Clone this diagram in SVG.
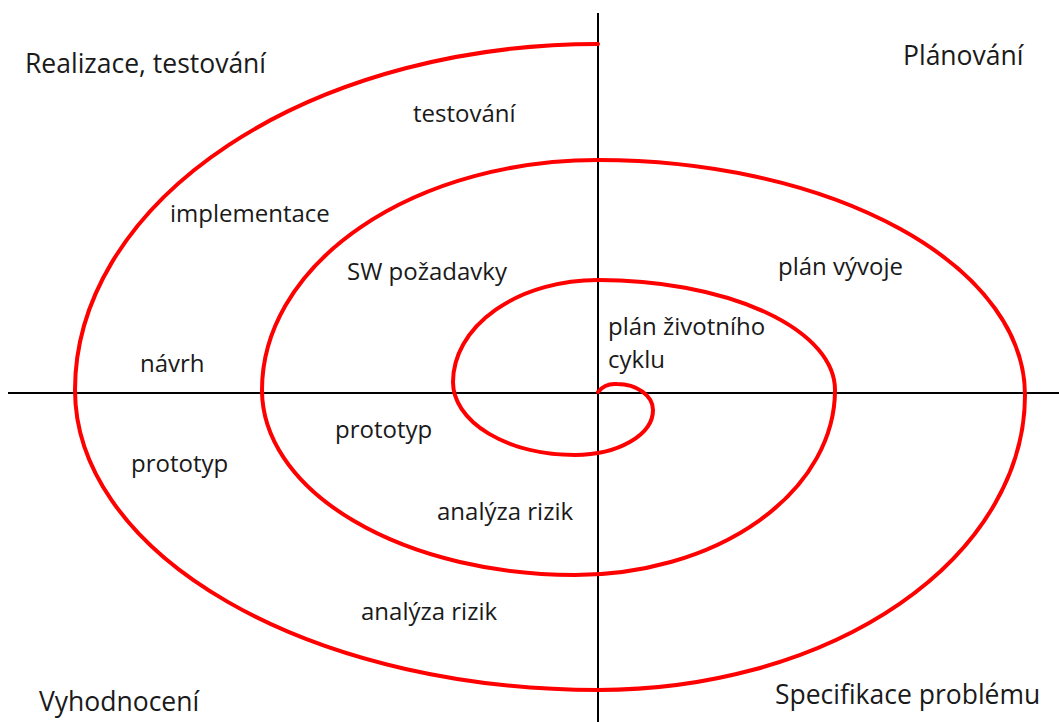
<svg xmlns="http://www.w3.org/2000/svg" width="1059" height="722" viewBox="0 0 1059 722">
<style>
.t{font-family:"Open Sans",Lato,"Liberation Sans",sans-serif;font-size:24px;fill:#1a1a1a}
.c{font-size:26.5px}
.ax{stroke:#000;stroke-width:2;fill:none}
.sp{stroke:#f00;stroke-width:4;fill:none;stroke-linecap:round}
</style>
<rect width="1059" height="722" fill="#fff"/>
<g id="connectors">
<line class="ax" x1="8" y1="393" x2="1059" y2="393"/>
<line class="ax" x1="598" y1="13" x2="598" y2="722"/>
<path id="spiral" class="sp" d="M598,392 Q605,383 617,384 A36,26 0 0 1 653,410 A78,45 0 0 1 575,455 A122,73 0 0 1 453,382 A145,102 0 0 1 598,280 A237,110 0 0 1 835,390 A260,185 0 0 1 575,575 A313,185 0 0 1 262,390 A336,230 0 0 1 598,160 A427,235 0 0 1 1025,395 A427,295 0 0 1 598,690 A523,300 0 0 1 75,390 A523,346 0 0 1 598,44"/>
</g>
<g id="q-realizace"><text class="t c" x="25" y="73">Realizace, testování</text></g>
<g id="q-planovani"><text class="t c" x="903" y="65">Plánování</text></g>
<g id="q-vyhodnoceni"><text class="t c" x="39" y="711">Vyhodnocení</text></g>
<g id="q-specifikace"><text class="t c" x="775" y="704">Specifikace problému</text></g>
<g id="l-testovani"><text class="t" x="413" y="122">testování</text></g>
<g id="l-implementace"><text class="t" x="170" y="222">implementace</text></g>
<g id="l-sw"><text class="t" x="347" y="280">SW požadavky</text></g>
<g id="l-planvyvoje"><text class="t" x="778" y="275">plán vývoje</text></g>
<g id="l-planzivot"><text class="t" x="608" y="335">plán životního</text><text class="t" x="608" y="368">cyklu</text></g>
<g id="l-navrh"><text class="t" x="140" y="372">návrh</text></g>
<g id="l-prototyp1"><text class="t" x="335" y="438">prototyp</text></g>
<g id="l-prototyp2"><text class="t" x="131" y="472">prototyp</text></g>
<g id="l-analyza1"><text class="t" x="437" y="520">analýza rizik</text></g>
<g id="l-analyza2"><text class="t" x="361" y="620">analýza rizik</text></g>
</svg>
